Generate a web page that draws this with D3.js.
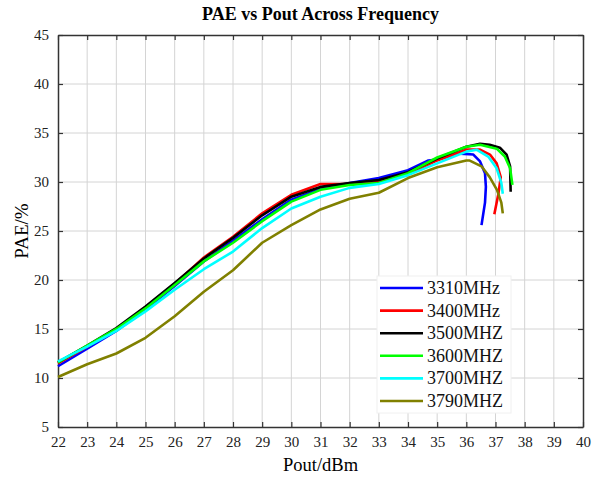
<!DOCTYPE html>
<html>
<head>
<meta charset="utf-8">
<script src="https://cdn.jsdelivr.net/npm/d3@7"></script>
<style>
  body { margin: 0; background: #fff; }
</style>
</head>
<body>
<div id="chart"></div>
<script>
var FONT = "'Liberation Serif', 'Times New Roman', Times, serif";

// frequencies
var labels = ["3310MHz", "3400MHz", "3500MHZ", "3600MHZ", "3700MHZ", "3790MHZ"];
var colors = ["#0000ff", "#ff0000", "#000000", "#00ff00", "#00ffff", "#808000"];

// Pout (dBm) / PAE (%) per frequency
var pout3310 = [22, 23, 24, 25, 26, 27, 28, 29, 30, 31, 32, 33, 34, 34.7, 35, 35.78, 36.24, 36.47, 36.64, 36.67, 36.64, 36.52];
var pae3310  = [11.2, 13.0, 14.8, 17.0, 19.4, 21.9, 24.0, 26.2, 28.2, 29.3, 29.9, 30.4, 31.2, 32.2, 32.3, 32.9, 32.8, 32.1, 30.9, 29.5, 27.9, 25.6];

var pout3400 = [22, 23, 24, 25, 26, 27, 28, 29, 30, 31, 32, 33, 34, 35, 36, 36.47, 36.81, 37.04, 37.18, 37.1, 36.96];
var pae3400  = [11.5, 13.2, 15.0, 17.2, 19.6, 22.3, 24.4, 26.8, 28.7, 29.8, 29.8, 30.0, 30.8, 32.2, 33.3, 33.3, 32.8, 31.9, 30.5, 28.8, 26.7];

var pout3500 = [22, 23, 24, 25, 26, 27, 28, 29, 30, 31, 32, 33, 34, 35, 36, 36.47, 36.8, 37.15, 37.38, 37.5, 37.52];
var pae3500  = [11.6, 13.3, 15.1, 17.3, 19.7, 22.2, 24.3, 26.6, 28.5, 29.5, 29.9, 30.2, 31.0, 32.4, 33.6, 33.9, 33.8, 33.5, 32.8, 31.6, 29.0];

var pout3600 = [22, 23, 24, 25, 26, 27, 28, 29, 30, 31, 32, 33, 34, 35, 36, 36.47, 37.04, 37.32, 37.5, 37.58];
var pae3600  = [11.6, 13.3, 15.0, 17.1, 19.5, 21.9, 23.8, 26.0, 28.0, 29.2, 29.7, 29.9, 30.9, 32.5, 33.6, 33.8, 33.4, 32.6, 31.4, 29.7];

var pout3700 = [22, 23, 24, 25, 26, 27, 28, 29, 30, 31, 32, 33, 34, 35, 36, 36.35, 36.75, 37.04, 37.2, 37.25];
var pae3700  = [11.7, 13.2, 14.8, 16.8, 19.0, 21.1, 22.9, 25.3, 27.3, 28.5, 29.4, 29.8, 30.7, 31.9, 33.1, 33.3, 32.6, 31.4, 29.9, 28.8];

var pout3790 = [22, 23, 24, 25, 26, 27, 28, 29, 30, 31, 32, 33, 34, 35, 36, 36.1, 36.52, 36.8, 37.05, 37.2, 37.25];
var pae3790  = [10.1, 11.4, 12.5, 14.1, 16.3, 18.8, 21.0, 23.8, 25.6, 27.2, 28.3, 28.9, 30.4, 31.5, 32.2, 32.2, 31.6, 30.5, 29.2, 27.9, 26.8];

var xTicks = d3.range(22, 41, 1);
var yTicks = d3.range(5, 46, 5);

var seriesX = [pout3310, pout3400, pout3500, pout3600, pout3700, pout3790];
var seriesY = [pae3310, pae3400, pae3500, pae3600, pae3700, pae3790];

var width = 600, height = 480;
var margin = { top: 35, right: 17, bottom: 53, left: 58 };
var w = width - margin.left - margin.right,
    h = height - margin.top - margin.bottom;

var svg = d3.select("#chart").append("svg")
  .attr("width", width)
  .attr("height", height)
  .attr("font-family", FONT);

var g = svg.append("g")
  .attr("transform", "translate(" + margin.left + "," + margin.top + ")");

var x = d3.scaleLinear().domain([22, 40]).range([0, w]);
var y = d3.scaleLinear().domain([5, 45]).range([h, 0]);

// grid
g.append("g").selectAll("line")
  .data(xTicks.slice(1, -1)).enter().append("line")
  .attr("x1", function (d) { return x(d); }).attr("x2", function (d) { return x(d); })
  .attr("y1", 0).attr("y2", h)
  .attr("stroke", "#d4d4d4").attr("stroke-width", 1);
g.append("g").selectAll("line")
  .data(yTicks.slice(1, -1)).enter().append("line")
  .attr("y1", function (d) { return y(d); }).attr("y2", function (d) { return y(d); })
  .attr("x1", 0).attr("x2", w)
  .attr("stroke", "#d4d4d4").attr("stroke-width", 1);

// axes, ticks inward
var xAxis = g.append("g")
  .attr("transform", "translate(0," + h + ")")
  .call(d3.axisBottom(x).tickValues(xTicks).tickSizeInner(-5).tickSizeOuter(0).tickPadding(9));
var xTop = g.append("g")
  .call(d3.axisTop(x).tickValues(xTicks).tickSizeInner(-5).tickSizeOuter(0).tickFormat(""));
var yAxis = g.append("g")
  .call(d3.axisLeft(y).tickValues(yTicks).tickSizeInner(-5).tickSizeOuter(0).tickPadding(9));
var yRight = g.append("g")
  .attr("transform", "translate(" + w + ",0)")
  .call(d3.axisRight(y).tickValues(yTicks).tickSizeInner(-5).tickSizeOuter(0).tickFormat(""));

[xAxis, xTop, yAxis, yRight].forEach(function (a) {
  a.attr("font-family", FONT).attr("font-size", 15);
  a.select(".domain").attr("stroke", "#333").attr("stroke-width", 1.5);
  a.selectAll(".tick line").attr("stroke", "#333").attr("stroke-width", 1.2);
  a.selectAll("text").attr("fill", "#222");
});

// lines
var line = d3.line()
  .x(function (d) { return x(d[0]); })
  .y(function (d) { return y(d[1]); });

seriesX.forEach(function (xs, i) {
  var pts = xs.map(function (v, j) { return [v, seriesY[i][j]]; });
  g.append("path")
    .datum(pts)
    .attr("d", line)
    .attr("fill", "none")
    .attr("stroke", colors[i])
    .attr("stroke-width", 2.6)
    .attr("stroke-linejoin", "round");
});

// legend
var lg = svg.append("g").attr("transform", "translate(377,276)");
lg.append("rect")
  .attr("width", 134).attr("height", 137)
  .attr("fill", "#fff").attr("stroke", "#f0f0f0");
labels.forEach(function (t, i) {
  var yy = 12 + i * 22.6;
  lg.append("line")
    .attr("x1", 3).attr("x2", 46).attr("y1", yy).attr("y2", yy)
    .attr("stroke", colors[i]).attr("stroke-width", 2.6);
  lg.append("text")
    .attr("x", 50).attr("y", yy + 6)
    .attr("font-size", 18).attr("fill", "#111")
    .text(t);
});

// titles
svg.append("text")
  .attr("x", margin.left + w / 2).attr("y", 20)
  .attr("text-anchor", "middle")
  .attr("font-size", 18).attr("font-weight", "bold")
  .text("PAE vs Pout Across Frequency");

svg.append("text")
  .attr("x", margin.left + w / 2).attr("y", 471)
  .attr("text-anchor", "middle")
  .attr("font-size", 18.5)
  .text("Pout/dBm");

svg.append("text")
  .attr("transform", "translate(28," + (margin.top + h / 2) + ") rotate(-90)")
  .attr("text-anchor", "middle")
  .attr("font-size", 19)
  .text("PAE/%");
</script>
</body>
</html>
